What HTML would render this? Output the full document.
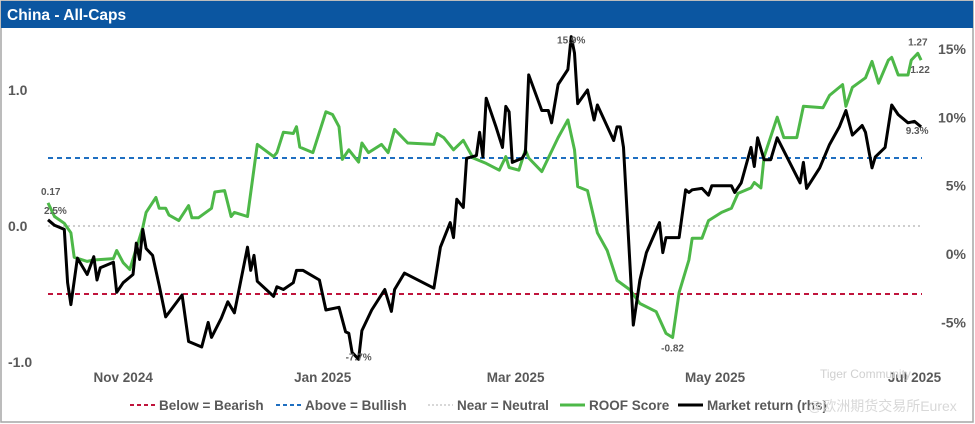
<!DOCTYPE html>
<html><head><meta charset="utf-8">
<style>
html,body{margin:0;padding:0;background:#fff;}
#wrap{position:relative;width:975px;height:424px;overflow:hidden;font-family:"Liberation Sans","Noto Sans CJK SC",sans-serif;}
svg text{font-family:"Liberation Sans","Noto Sans CJK SC",sans-serif;}
</style></head>
<body>
<div id="wrap">
<svg id="chart" width="975" height="424" viewBox="0 0 975 424">
  <rect x="1" y="1" width="972" height="421" fill="#fff" stroke="#a6a6a6" stroke-width="1.5"/>
  <rect x="1" y="1" width="972" height="27" fill="#0b56a1"/>
  <text x="7" y="20" fill="#fff" font-size="15.5" font-weight="bold">China - All-Caps</text>
  <g id="grid"></g><g id="series"></g><g id="labels"></g><g id="legend"></g>
  <text x="820" y="378" fill="#d0d0d0" font-size="12">Tiger Community</text>
  <text x="808" y="411" fill="#d8d8d8" font-size="14">@欧洲期货交易所Eurex</text>
</svg>
</div>
<script>
// ---- data ----
const roofDays = [0,2,5,7,8,12,14,20,21,23,25,29,30,33,34,36,37,40,43,44,46,50,51,54,56,57,61,64,69,70,72,75,76,77,81,85,87,89,90,92,95,96,98,102,104,106,110,118,119,121,124,127,130,134,138,140,141,144,146,147,151,156,159,161,162,165,168,171,174,178,181,186,189,191,193,196,197,200,202,206,209,211,215,216,218,219,223,225,229,231,237,239,243,244,246,250,252,254,257,258,260,263,264,266,267];
const roofValues = [0.17,0.07,0.02,-0.05,-0.23,-0.26,-0.25,-0.24,-0.18,-0.27,-0.32,-0.01,0.10,0.21,0.13,0.13,0.08,0.04,0.15,0.06,0.06,0.13,0.25,0.26,0.07,0.10,0.07,0.60,0.51,0.54,0.69,0.68,0.73,0.58,0.54,0.84,0.82,0.73,0.49,0.56,0.47,0.61,0.54,0.60,0.54,0.71,0.61,0.60,0.68,0.65,0.56,0.63,0.50,0.46,0.41,0.51,0.43,0.41,0.56,0.50,0.40,0.65,0.78,0.56,0.29,0.26,-0.05,-0.18,-0.40,-0.47,-0.57,-0.63,-0.79,-0.82,-0.49,-0.25,-0.09,-0.09,0.04,0.10,0.13,0.24,0.28,0.32,0.28,0.51,0.80,0.65,0.65,0.88,0.87,0.96,1.04,0.88,1.02,1.09,1.21,1.05,1.22,1.24,1.11,1.11,1.22,1.27,1.22];
const retDays = [0,2,5,6,7,9,12,14,15,16,20,21,23,26,27,28,29,30,32,34,36,41,43,47,49,50,53,55,57,61,62,63,64,69,70,72,75,76,78,83,85,89,91,92,93,95,96,99,103,105,106,109,118,120,123,124,125,127,128,131,132,133,134,137,139,140,141,142,145,146,147,151,153,154,156,159,160,161,162,165,167,168,173,174,175,176,179,181,183,187,188,189,193,195,196,197,200,202,203,209,210,212,215,216,217,219,221,223,230,231,232,236,239,242,244,246,249,250,252,253,256,258,260,263,265,267];
const retValues = [2.5,2.1,1.8,-2.1,-3.7,-0.3,-1.5,-0.2,-1.9,-1.0,-0.6,-2.8,-2.1,-1.5,0.8,-0.4,1.8,0.4,-0.1,-2.3,-4.6,-3.0,-6.4,-6.8,-5.0,-6.1,-4.7,-3.5,-4.3,0.5,-1.2,-0.1,-2.0,-3.1,-2.4,-2.6,-2.1,-1.2,-1.2,-1.9,-4.1,-3.9,-5.7,-5.8,-7.2,-7.7,-5.6,-4.1,-2.6,-4.2,-2.6,-1.4,-2.5,0.5,2.3,1.2,4.0,3.4,7.0,7.2,8.9,7.1,11.4,9.3,7.8,10.8,10.4,6.7,7.0,7.4,13.1,10.5,10.5,9.6,12.4,13.5,15.9,14.7,11.0,12.0,9.8,10.9,8.3,9.3,9.3,7.8,-5.2,-1.9,0.1,2.3,0.1,1.2,1.2,4.7,4.5,4.7,4.8,4.3,5.0,5.0,4.5,5.2,7.8,6.4,8.5,6.9,6.9,8.5,5.2,6.7,4.8,6.3,8.0,9.3,10.5,8.7,9.4,8.9,6.3,7.1,7.8,10.9,10.2,9.6,9.7,9.3];
const leftTicks = [1.0, 0.0, -1.0];
const leftTickLabels = ["1.0","0.0","-1.0"];
const rightTicks = [15,10,5,0,-5];
const rightTickLabels = ["15%","10%","5%","0%","-5%"];
const monthDays = [23,84,143,204,265];
const monthLabels = ["Nov 2024","Jan 2025","Mar 2025","May 2025","Jul 2025"];
const refLevels = [-0.5, 0.5, 0.0];

// ---- scales ----
const X0 = 48, PXD = 3.27;
const xs = d => X0 + d * PXD;
const yl = v => 226 - v * 136;
const yr = v => 254 - v * 13.67;
const NS = "http://www.w3.org/2000/svg";
function mk(tag, attrs, parent) {
  const e = document.createElementNS(NS, tag);
  for (const k in attrs) e.setAttribute(k, attrs[k]);
  parent.appendChild(e);
  return e;
}
const grid = document.getElementById('grid');
const series = document.getElementById('series');
const labels = document.getElementById('labels');
const legend = document.getElementById('legend');

// reference lines
const refColors = ["#c0143c", "#1f6fc1", "#bdbdbd"];
const refDash = ["5,4", "5,4", "2,3"];
const refNames = ["bearish-line", "bullish-line", "neutral-line"];
refLevels.forEach((v, i) => {
  const l = mk('line', {x1: 48, x2: 922, y1: yl(v), y2: yl(v), stroke: refColors[i], 'stroke-width': i === 2 ? 1.5 : 2, 'stroke-dasharray': refDash[i]}, grid);
  
  
});

// left ticks
leftTicks.forEach((v, i) => {
  const t = mk('text', {x: 8, y: yl(v) + 5, fill: '#595959', 'font-size': 14, 'font-weight': 'bold'}, labels);
  t.textContent = leftTickLabels[i];
  
  
});
// right ticks
rightTicks.forEach((v, i) => {
  const t = mk('text', {x: 966, y: yr(v) + 5, fill: '#595959', 'font-size': 14, 'font-weight': 'bold', 'text-anchor': 'end'}, labels);
  t.textContent = rightTickLabels[i];
  
  
});
// x labels
monthDays.forEach((d, i) => {
  const t = mk('text', {x: xs(d), y: 382, fill: '#595959', 'font-size': 13.5, 'font-weight': 'bold', 'text-anchor': 'middle'}, labels);
  t.textContent = monthLabels[i];
  
  
});

// series
const gp = roofDays.map((d, i) => xs(d).toFixed(1) + ',' + yl(roofValues[i]).toFixed(1)).join(' ');
const g = mk('polyline', {points: gp, fill: 'none', stroke: '#4db848', 'stroke-width': 3, 'stroke-linejoin': 'round'}, series);


const bp = retDays.map((d, i) => xs(d).toFixed(1) + ',' + yr(retValues[i]).toFixed(1)).join(' ');
const b = mk('polyline', {points: bp, fill: 'none', stroke: '#000', 'stroke-width': 3, 'stroke-linejoin': 'round'}, series);



// annotations
function ann(x, y, txt, anchor) {
  const t = mk('text', {x: x, y: y, fill: '#595959', 'font-size': 10, 'font-weight': 'bold', 'text-anchor': anchor}, labels);
  t.textContent = txt;
  
  
}
const rn = roofValues.length, bn = retValues.length;
ann(xs(roofDays[0]) - 7, yl(roofValues[0]) - 8, roofValues[0].toFixed(2), 'start');
ann(xs(retDays[0]) - 4, yr(retValues[0]) - 6, retValues[0].toFixed(1) + '%', 'start');
let bmax = 0, bmin = 0;
retValues.forEach((v, i) => { if (v > retValues[bmax]) bmax = i; if (v < retValues[bmin]) bmin = i; });
ann(xs(retDays[bmax]), yr(retValues[bmax]) + 7, retValues[bmax].toFixed(1) + '%', 'middle');
ann(xs(retDays[bmin]), yr(retValues[bmin]) + 1, retValues[bmin].toFixed(1) + '%', 'middle');
let rmin = 0, rmax = 0;
roofValues.forEach((v, i) => { if (v < roofValues[rmin]) rmin = i; if (v > roofValues[rmax]) rmax = i; });
ann(xs(roofDays[rmin]), yl(roofValues[rmin]) + 14, roofValues[rmin].toFixed(2), 'middle');
ann(xs(roofDays[rmax]), yl(roofValues[rmax]) - 8, roofValues[rmax].toFixed(2), 'middle');
ann(xs(roofDays[rn - 1]) - 1, yl(roofValues[rn - 1]) + 13, roofValues[rn - 1].toFixed(2), 'middle');
ann(xs(retDays[bn - 1]) - 4, yr(retValues[bn - 1]) + 7, retValues[bn - 1].toFixed(1) + '%', 'middle');

// legend
const legItems = [
  {x: 130, w: 25, color: '#c0143c', dash: '4,3', sw: 2, label: 'Below = Bearish', name: 'legend-bearish'},
  {x: 276, w: 25, color: '#1f6fc1', dash: '4,3', sw: 2, label: 'Above = Bullish', name: 'legend-bullish'},
  {x: 428, w: 25, color: '#cccccc', dash: '2,2', sw: 1.5, label: 'Near = Neutral', name: 'legend-neutral'},
  {x: 560, w: 25, color: '#4db848', dash: '', sw: 3, label: 'ROOF Score', name: 'legend-roof-score'},
  {x: 678, w: 25, color: '#000', dash: '', sw: 3, label: 'Market return (rhs)', name: 'legend-market-return'}
];
legItems.forEach(it => {
  const gEl = mk('g', {}, legend);
  
  
  const a = {x1: it.x, x2: it.x + it.w, y1: 405, y2: 405, stroke: it.color, 'stroke-width': it.sw};
  if (it.dash) a['stroke-dasharray'] = it.dash;
  mk('line', a, gEl);
  const t = mk('text', {x: it.x + it.w + 4, y: 410, fill: '#595959', 'font-size': 13.5, 'font-weight': 'bold'}, gEl);
  t.textContent = it.label;
});
</script>
</body></html>
